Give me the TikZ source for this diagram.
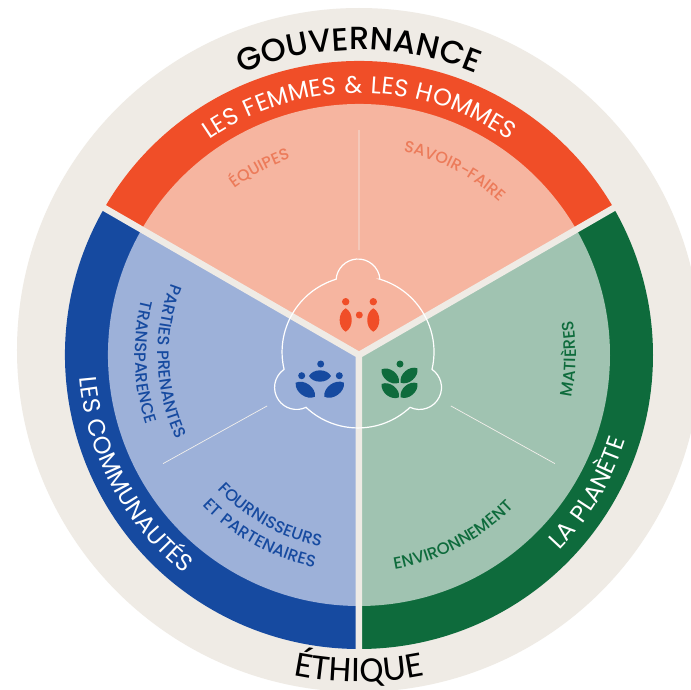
\documentclass[tikz,border=0pt]{standalone}
\usepackage{fontspec}
\setmainfont{Poppins}
\newfontfamily\govfont[LetterSpace=1]{Poppins Medium}
\newfontfamily\ethfont[LetterSpace=3]{Carlito}
\newfontfamily\bandfont[LetterSpace=7]{Poppins}
\newfontfamily\petitfont[LetterSpace=5]{Poppins Medium}
\usetikzlibrary{decorations.text}
\definecolor{creme}{HTML}{EFEBE5}
\definecolor{rouge}{HTML}{F04E28}
\definecolor{rougeclair}{HTML}{F6B5A0}
\definecolor{rougetexte}{HTML}{EC7B5A}
\definecolor{bleu}{HTML}{164AA0}
\definecolor{bleuclair}{HTML}{9DB1D9}
\definecolor{vert}{HTML}{0E6B3C}
\definecolor{vertclair}{HTML}{A0C3B1}
\tikzset{
	courbe/.style={decorate,decoration={text along path,text align=center,text={#1}}},
	trait/.style={creme!75!white,line width=0.7pt},
	cloison/.style={creme,line width=6.5pt},
}
\newcommand{\feuille}[3]{\fill[#1] (#2) to[bend left=62] (#3) to[bend left=62] cycle;}
\begin{document}
\begin{tikzpicture}[x=1pt,y=1pt]
	\clip (-359,-334) rectangle (332,355);
	\fill[white] (-359,-334) rectangle (332,355);
	\fill[creme] (0,5) circle (342);
	\fill[rouge] (0,0) -- (150:294) arc[start angle=150,end angle=30,radius=294] -- cycle;
	\fill[bleu] (0,0) -- (150:294) arc[start angle=150,end angle=270,radius=294] -- cycle;
	\fill[vert] (0,0) -- (270:294) arc[start angle=270,end angle=390,radius=294] -- cycle;
	\fill[rougeclair] (0,0) -- (150:251) arc[start angle=150,end angle=30,radius=251] -- cycle;
	\fill[bleuclair] (0,0) -- (150:251) arc[start angle=150,end angle=270,radius=251] -- cycle;
	\fill[vertclair] (0,0) -- (270:251) arc[start angle=270,end angle=390,radius=251] -- cycle;
	\draw[cloison] (0,0) -- (150:296) (0,0) -- (30:296) (0,0) -- (270:296);
	\draw[trait] (90:105) -- (90:225) (209:105) -- (209:224) (331:105) -- (331:224);
	\begin{scope}[shift={(-1,3)}]
		\draw[white,line width=1.2pt] (73.2:76)
			arc[start angle=4.6,end angle=175.4,radius=22]
			arc[start angle=106.8,end angle=193.2,radius=76]
			arc[start angle=124.6,end angle=295.4,radius=22]
			arc[start angle=226.8,end angle=313.2,radius=76]
			arc[start angle=244.6,end angle=415.4,radius=22]
			arc[start angle=346.8,end angle=433.2,radius=76] -- cycle;
	\end{scope}
	\fill[rouge] (-13.3,53.3) circle (3.7) (14.3,53.3) circle (3.7) (0.3,40) circle (3.5);
	\feuille{rouge}{-13.3,46.7}{-13.3,23.3}
	\feuille{rouge}{14.3,46.7}{14.3,23.3}
	\fill[bleu] (-38.3,-9) circle (3.5) (-57.3,-20.7) circle (3.5) (-19.7,-20.7) circle (3.5);
	\feuille{bleu}{-50,-21}{-28,-21}
	\feuille{bleu}{-63.3,-27.7}{-44,-41.7}
	\feuille{bleu}{-34.7,-41.7}{-15,-27.7}
	\fill[vert] (41,-9) circle (3.5);
	\feuille{vert}{22.7,-14.3}{40,-27.7}
	\feuille{vert}{41.7,-27.7}{58.3,-13.3}
	\feuille{vert}{22.7,-29}{40,-42.3}
	\feuille{vert}{41.7,-42.3}{58.3,-28.3}
	\path[courbe={|\fontsize{32}{32}\govfont|GOUVERNANCE}] (120:305) arc[start angle=120,end angle=60,radius=305];
	\path[courbe={|\fontsize{36}{36}\ethfont\color{black}|ÉTHIQUE}] (245:327) arc[start angle=245,end angle=295,radius=327];
	\path[courbe={|\fontsize{24}{24}\bandfont\color{white}|LES FEMMES {\&} LES HOMMES}] (150:262) arc[start angle=150,end angle=30,radius=262];
	\path[courbe={|\fontsize{24}{24}\bandfont\color{white}|LES COMMUNAUTÉS}] (168:280) arc[start angle=168,end angle=248,radius=280];
	\path[courbe={|\fontsize{24}{24}\bandfont\color{white}|LA PLANÈTE}] (299:280) arc[start angle=299,end angle=359,radius=280];
	\path[courbe={|\fontsize{16}{16}\petitfont\color{rougetexte}|ÉQUIPES}] (138:208) arc[start angle=138,end angle=98,radius=208];
	\path[courbe={|\fontsize{16}{16}\petitfont\color{rougetexte}|SAVOIR-FAIRE}] (90:208) arc[start angle=90,end angle=35,radius=208];
	\path[courbe={|\fontsize{16.5}{16.5}\petitfont\color{bleu}|PARTIES PRENANTES}] (150:201) arc[start angle=150,end angle=214,radius=201];
	\path[courbe={|\fontsize{16.5}{16.5}\petitfont\color{bleu}|TRANSPARENCE}] (155:224) arc[start angle=155,end angle=209,radius=224];
	\path[courbe={|\fontsize{16.5}{16.5}\petitfont\color{bleu}|FOURNISSEURS}] (215:195) arc[start angle=215,end angle=267,radius=195];
	\path[courbe={|\fontsize{16.5}{16.5}\petitfont\color{bleu}|ET PARTENAIRES}] (215:217) arc[start angle=215,end angle=267,radius=217];
	\path[courbe={|\fontsize{16.5}{16.5}\petitfont\color{vert}|MATIÈRES}] (341:217) arc[start angle=341,end angle=377,radius=217];
	\path[courbe={|\fontsize{16.5}{16.5}\petitfont\color{vert}|ENVIRONNEMENT}] (270:217) arc[start angle=270,end angle=325,radius=217];
\end{tikzpicture}
\end{document}
